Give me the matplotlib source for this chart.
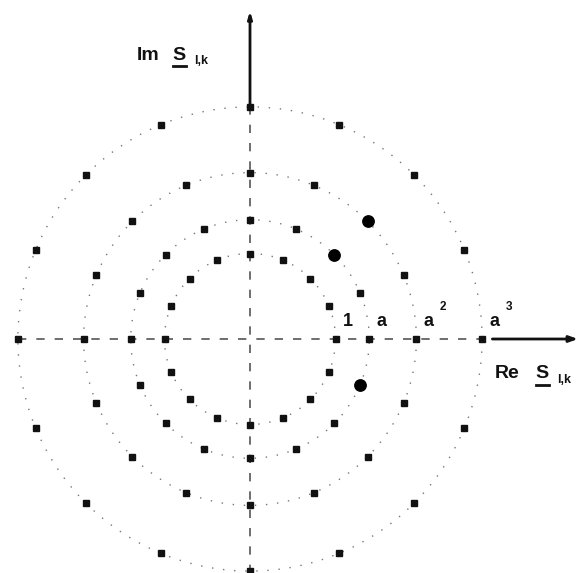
import numpy as np
import matplotlib
matplotlib.use("Agg")
import matplotlib.pyplot as plt

# Ring radii 1, a, a^2, a^3 of the signal constellation
a = 1.395
ring_labels = ["1", "a", "a", "a"]
ring_powers = ["", "", "2", "3"]
radii = [1.0, a, a**2, a**3]
n_points = 16                      # points per ring, equally spaced in phase
# highlighted points: (ring index, phase index k)
highlighted = [(1, 2), (2, 2), (1, 15)]

unit = 85.5                        # pixels per unit of |S|
cx, cy = 250.0, 339.0              # origin position in pixels
W, H = 581, 573

fig = plt.figure(figsize=(W / 100, H / 100), dpi=100)
ax = fig.add_axes([0, 0, 1, 1])
ax.set_xlim(-cx / unit, (W - cx) / unit)
ax.set_ylim((cy - H) / unit, cy / unit)
ax.set_aspect("equal")
ax.axis("off")

font = dict(family="Liberation Sans", fontweight="bold", color="#111111")

# dotted rings
t = np.linspace(0, 2 * np.pi, 721)
for r in radii:
    ax.plot(r * np.cos(t), r * np.sin(t), color="#777777", lw=1.0,
            linestyle=(0, (1, 7)))

# dashed axes through the origin
x_left = -radii[-1]
x_right = radii[-1]
ax.plot([x_left, x_right], [0, 0], color="#555555", lw=1.2,
        linestyle=(0, (5, 6)))
ax.plot([0, 0], [(cy - H) / unit, radii[-1]], color="#555555", lw=1.2,
        linestyle=(0, (5, 6)))

# solid arrows for Re and Im
ax.annotate("", xy=((578 - cx) / unit, 0), xytext=(x_right + 0.12, 0),
            arrowprops=dict(arrowstyle="-|>,head_length=0.5,head_width=0.18",
                            color="#111111", lw=2.0, shrinkA=0, shrinkB=0))
ax.annotate("", xy=(0, (cy - 11) / unit), xytext=(0, radii[-1] + 0.03),
            arrowprops=dict(arrowstyle="-|>,head_length=0.4,head_width=0.12",
                            color="#111111", lw=2.0, shrinkA=0, shrinkB=0))

# constellation points
phases = np.arange(n_points) * 2 * np.pi / n_points
for i, r in enumerate(radii):
    for k, ph in enumerate(phases):
        x, y = r * np.cos(ph), r * np.sin(ph)
        if (i, k) in highlighted:
            ax.plot(x, y, "o", ms=8.2, color="#000000", zorder=5)
        else:
            ax.plot(x, y, "s", ms=4.6, color="#111111", zorder=5)

# ring labels on the real axis
for r, lab, pw in zip(radii, ring_labels, ring_powers):
    lx = r + 0.145
    ax.text(lx, 0.11, lab, fontsize=13, ha="center", va="bottom", **font)
    if pw:
        ax.text(lx + 0.17, 0.3, pw, fontsize=8.5, ha="center", va="bottom", **font)


def px(x, y):
    return (x - cx) / unit, (cy - y) / unit


# axis titles: Im S_{l,k} and Re S_{l,k} with underlined S
def axis_title(x0, y0, head):
    ax.text(*px(x0, y0), head, fontsize=14, ha="left", va="center", **font)
    sx = x0 + (35 if head == "Im" else 40)
    ax.text(*px(sx, y0), "S", fontsize=14, ha="left", va="center", **font)
    ax.plot(*zip(px(sx + 1, y0 + 11), px(sx + 14, y0 + 11)),
            color="#111111", lw=2.0)
    ax.text(*px(sx + 22, y0 + 6), "l,k", fontsize=9, ha="left",
            va="center", **font)


axis_title(137, 55, "Im")
axis_title(495, 374, "Re")

fig.savefig("out.png", dpi=100)
